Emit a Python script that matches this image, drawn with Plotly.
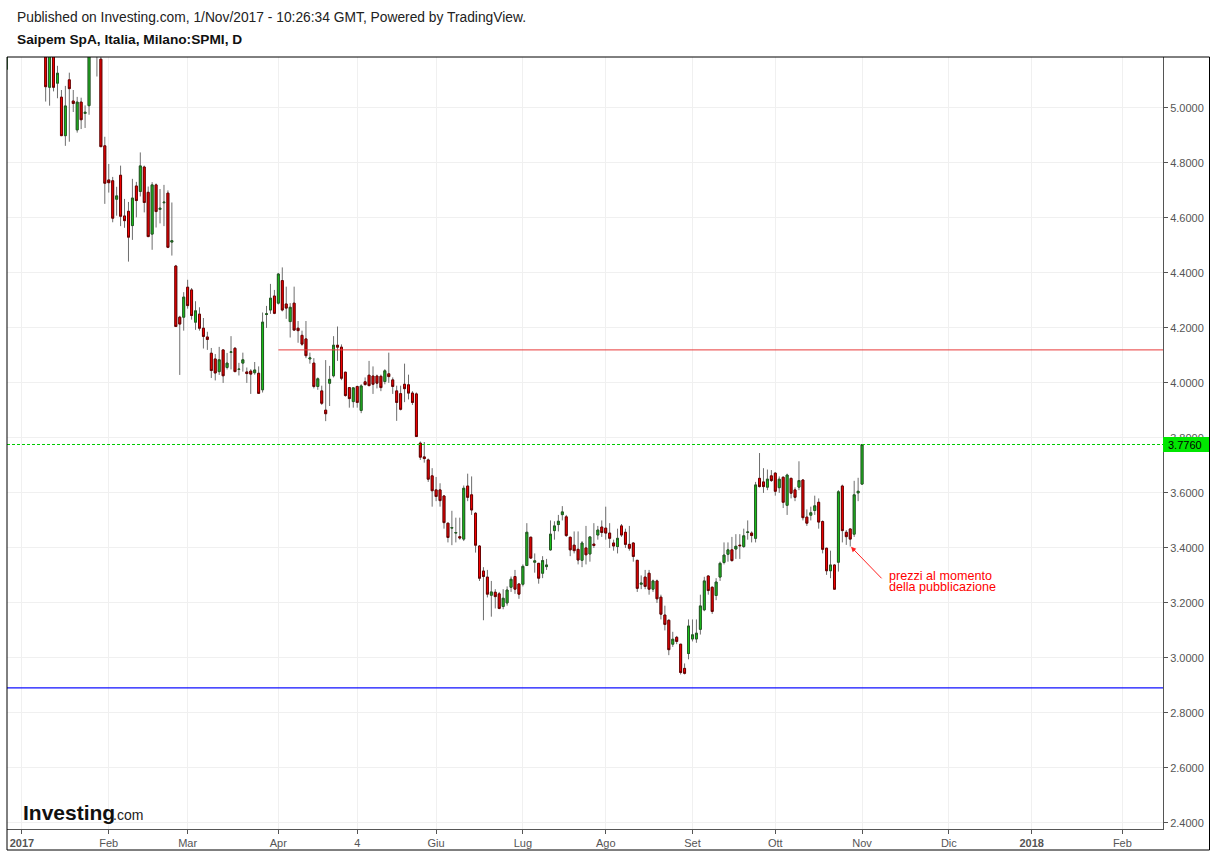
import pandas as pd
import plotly.graph_objects as go

# ---------------- data (Saipem SpA, daily, 27 Dec 2016 -> 1 Nov 2017) ----------------
holidays = ["2017-04-14", "2017-04-17", "2017-05-01", "2017-08-15"]

open_ = [5.14, 5.27, 5.30, 5.33, 5.36, 5.45, 5.42, 5.38, 5.31, 5.25,
         5.28, 5.075, 5.21, 5.09, 5.039, 4.899, 5.102, 5.025, 4.92, 5.021,
         4.980, 5.008, 5.22, 5.26, 5.177, 4.862, 4.738, 4.735, 4.668, 4.755,
         4.607, 4.624, 4.572, 4.716, 4.696, 4.785, 4.693, 4.541, 4.72, 4.631,
         4.655, 4.69, 4.512, 4.425, 4.239, 4.239, 4.348, 4.338, 4.221, 4.25,
         4.199, 4.167, 4.108, 4.087, 4.041, 4.12, 4.056, 4.111, 4.126, 4.049,
         4.072, 4.04, 4.043, 4.037, 4.035, 3.975, 4.249, 4.265, 4.316, 4.29,
         4.372, 4.287, 4.223, 4.29, 4.199, 4.173, 4.16, 4.087, 4.072, 3.987,
         3.971, 3.901, 3.999, 4.026, 4.137, 4.13, 4.039, 3.983, 3.932, 3.987,
         3.9, 4.004, 4.028, 4.025, 4.025, 4.024, 4.005, 4.033, 4.011, 3.971,
         3.961, 3.995, 3.993, 3.963, 3.96, 3.781, 3.731, 3.72, 3.662, 3.611,
         3.611, 3.589, 3.49, 3.472, 3.454, 3.441, 3.432, 3.625, 3.593, 3.526,
         3.407, 3.316, 3.294, 3.228, 3.239, 3.233, 3.187, 3.2, 3.257, 3.296,
         3.269, 3.268, 3.336, 3.439, 3.348, 3.344, 3.308, 3.332, 3.393, 3.463,
         3.485, 3.521, 3.513, 3.439, 3.41, 3.395, 3.355, 3.4, 3.378, 3.414,
         3.447, 3.476, 3.472, 3.454, 3.418, 3.405, 3.48, 3.457, 3.413, 3.418,
         3.355, 3.268, 3.294, 3.308, 3.25, 3.28, 3.221, 3.156, 3.137, 3.05,
         3.075, 3.05, 2.962, 3.016, 3.069, 3.069, 3.104, 3.175, 3.298, 3.257,
         3.227, 3.294, 3.347, 3.377, 3.393, 3.396, 3.41, 3.405, 3.456, 3.454,
         3.435, 3.653, 3.64, 3.621, 3.662, 3.672, 3.619, 3.657, 3.555, 3.653,
         3.611, 3.621, 3.647, 3.512, 3.519, 3.536, 3.566, 3.496, 3.399, 3.317,
         3.338, 3.348, 3.625, 3.457, 3.469, 3.45, 3.600, 3.632]

high = [5.20, 5.35, 5.38, 5.40, 5.50, 5.52, 5.48, 5.44, 5.36, 5.32,
        5.30, 5.22, 5.24, 5.153, 5.065, 5.08, 5.128, 5.065, 5.04, 5.037,
        5.009, 5.25, 5.30, 5.28, 5.21, 4.895, 4.796, 4.749, 4.713, 4.79,
        4.669, 4.658, 4.742, 4.731, 4.838, 4.79, 4.714, 4.73, 4.725, 4.705,
        4.72, 4.70, 4.656, 4.429, 4.244, 4.33, 4.375, 4.345, 4.297, 4.275,
        4.236, 4.186, 4.127, 4.105, 4.131, 4.12, 4.109, 4.17, 4.13, 4.073,
        4.11, 4.056, 4.05, 4.076, 4.06, 4.256, 4.28, 4.36, 4.338, 4.40,
        4.42, 4.35, 4.29, 4.35, 4.225, 4.19, 4.225, 4.11, 4.09, 4.02,
        3.99, 4.083, 4.062, 4.17, 4.205, 4.14, 4.04, 3.985, 3.985, 3.99,
        3.995, 4.02, 4.08, 4.06, 4.03, 4.03, 4.05, 4.11, 4.02, 3.99,
        3.99, 4.07, 4.03, 3.97, 3.965, 3.787, 3.785, 3.725, 3.69, 3.658,
        3.635, 3.59, 3.49, 3.535, 3.51, 3.51, 3.627, 3.67, 3.66, 3.53,
        3.41, 3.33, 3.32, 3.28, 3.25, 3.24, 3.25, 3.26, 3.296, 3.32,
        3.27, 3.34, 3.49, 3.44, 3.38, 3.345, 3.37, 3.36, 3.5, 3.497,
        3.52, 3.552, 3.52, 3.44, 3.46, 3.46, 3.425, 3.48, 3.44, 3.49,
        3.48, 3.50, 3.55, 3.49, 3.43, 3.47, 3.487, 3.47, 3.48, 3.42,
        3.356, 3.30, 3.32, 3.32, 3.285, 3.285, 3.23, 3.19, 3.14, 3.095,
        3.08, 3.05, 2.98, 3.14, 3.14, 3.14, 3.23, 3.295, 3.30, 3.26,
        3.29, 3.35, 3.42, 3.42, 3.44, 3.45, 3.45, 3.47, 3.50, 3.46,
        3.64, 3.745, 3.69, 3.685, 3.683, 3.675, 3.66, 3.66, 3.67, 3.655,
        3.62, 3.715, 3.65, 3.54, 3.55, 3.59, 3.58, 3.50, 3.40, 3.39,
        3.34, 3.61, 3.63, 3.465, 3.47, 3.644, 3.655, 3.776]

low = [5.13, 5.22, 5.25, 5.26, 5.32, 5.38, 5.33, 5.27, 5.22, 5.21,
       5.023, 5.008, 5.06, 5.035, 4.899, 4.862, 4.877, 4.985, 4.91, 4.923,
       4.927, 4.975, 5.20, 5.114, 4.859, 4.651, 4.692, 4.584, 4.608, 4.57,
       4.564, 4.441, 4.52, 4.602, 4.678, 4.62, 4.53, 4.484, 4.565, 4.58,
       4.57, 4.49, 4.463, 4.205, 4.029, 4.19, 4.27, 4.23, 4.193, 4.19,
       4.125, 4.12, 4.018, 4.009, 4.029, 4.0, 4.049, 4.049, 4.04, 4.027,
       4.041, 4.0, 3.96, 4.03, 3.96, 3.965, 4.2, 4.251, 4.25, 4.285,
       4.26, 4.233, 4.165, 4.19, 4.146, 4.135, 4.09, 4.07, 3.98, 3.975,
       3.92, 3.861, 3.916, 4.02, 4.08, 4.01, 3.95, 3.91, 3.91, 3.91,
       3.89, 3.99, 3.99, 3.96, 3.98, 3.97, 3.995, 4.0, 3.96, 3.862,
       3.90, 3.93, 3.94, 3.92, 3.805, 3.72, 3.71, 3.64, 3.55, 3.57,
       3.55, 3.47, 3.42, 3.41, 3.42, 3.43, 3.425, 3.57, 3.52, 3.383,
       3.28, 3.137, 3.22, 3.15, 3.18, 3.177, 3.177, 3.19, 3.24, 3.233,
       3.215, 3.26, 3.335, 3.36, 3.31, 3.27, 3.29, 3.32, 3.39, 3.43,
       3.46, 3.5, 3.44, 3.37, 3.38, 3.34, 3.33, 3.34, 3.35, 3.40,
       3.43, 3.44, 3.43, 3.40, 3.39, 3.38, 3.44, 3.40, 3.39, 3.35,
       3.24, 3.25, 3.25, 3.23, 3.24, 3.20, 3.14, 3.10, 3.01, 3.04,
       3.05, 2.94, 2.94, 2.995, 3.06, 3.055, 3.085, 3.17, 3.23, 3.16,
       3.21, 3.28, 3.34, 3.35, 3.35, 3.36, 3.36, 3.40, 3.43, 3.42,
       3.42, 3.62, 3.60, 3.61, 3.64, 3.59, 3.60, 3.545, 3.52, 3.58,
       3.57, 3.61, 3.50, 3.48, 3.50, 3.52, 3.47, 3.38, 3.302, 3.29,
       3.25, 3.314, 3.42, 3.411, 3.405, 3.44, 3.57, 3.63]

close = [5.27, 5.30, 5.33, 5.36, 5.45, 5.42, 5.38, 5.31, 5.25, 5.28,
         5.077, 5.20, 5.075, 5.126, 4.899, 5.007, 5.070, 5.016, 5.021, 4.957,
         4.984, 5.22, 5.26, 5.20, 4.859, 4.726, 4.728, 4.599, 4.680, 4.606,
         4.590, 4.53, 4.672, 4.663, 4.789, 4.656, 4.532, 4.72, 4.623, 4.635,
         4.657, 4.493, 4.517, 4.205, 4.214, 4.312, 4.281, 4.245, 4.262, 4.199,
         4.169, 4.158, 4.045, 4.036, 4.084, 4.026, 4.072, 4.113, 4.041, 4.05,
         4.084, 4.034, 4.032, 4.047, 3.962, 4.221, 4.251, 4.308, 4.253, 4.396,
         4.265, 4.272, 4.275, 4.192, 4.19, 4.141, 4.099, 4.091, 3.987, 4.015,
         3.926, 3.888, 4.013, 4.137, 4.13, 4.017, 3.954, 3.943, 3.982, 3.929,
         3.989, 3.994, 3.99, 3.995, 3.999, 3.983, 4.044, 4.023, 3.987, 3.929,
         3.904, 3.979, 3.963, 3.929, 3.805, 3.730, 3.725, 3.65, 3.608, 3.587,
         3.572, 3.492, 3.438, 3.474, 3.456, 3.436, 3.617, 3.584, 3.538, 3.41,
         3.29, 3.296, 3.232, 3.24, 3.223, 3.18, 3.217, 3.247, 3.286, 3.25,
         3.232, 3.333, 3.457, 3.363, 3.353, 3.29, 3.354, 3.338, 3.45, 3.48,
         3.497, 3.531, 3.445, 3.393, 3.39, 3.356, 3.418, 3.375, 3.44, 3.409,
         3.465, 3.456, 3.454, 3.435, 3.407, 3.435, 3.447, 3.413, 3.399, 3.369,
         3.253, 3.272, 3.26, 3.25, 3.28, 3.215, 3.159, 3.122, 3.03, 3.068,
         3.06, 2.947, 2.944, 3.116, 3.084, 3.09, 3.189, 3.28, 3.245, 3.169,
         3.276, 3.344, 3.374, 3.393, 3.354, 3.406, 3.408, 3.444, 3.458, 3.445,
         3.629, 3.623, 3.623, 3.65, 3.645, 3.606, 3.65, 3.566, 3.665, 3.599,
         3.584, 3.645, 3.51, 3.49, 3.528, 3.553, 3.494, 3.395, 3.317, 3.338,
         3.25, 3.604, 3.463, 3.441, 3.432, 3.593, 3.606, 3.776]

tick_dates = ["2017-01-02", "2017-02-01", "2017-03-01", "2017-04-03", "2017-05-04",
              "2017-06-01", "2017-07-03", "2017-08-01", "2017-09-01", "2017-10-02",
              "2017-11-01", "2017-12-01", "2018-01-01", "2018-02-01"]
tick_labels = ["<b>2017</b>", "Feb", "Mar", "Apr", "4", "Giu", "Lug", "Ago",
               "Set", "Ott", "Nov", "Dic", "<b>2018</b>", "Feb"]

y_ticks = [2.4, 2.6, 2.8, 3.0, 3.2, 3.4, 3.6, 3.8, 4.0, 4.2, 4.4, 4.6, 4.8, 5.0]

resistance = 4.12      # red line, starts 3 Apr 2017
support = 2.891        # blue line
last_price = 3.776
resistance_start = "2017-04-03"

# ---------------- trading-day axis ----------------
cal = pd.bdate_range("2016-12-27", "2018-03-01")
cal = cal[~cal.isin(pd.to_datetime(holidays))]
base = list(cal).index(pd.Timestamp("2017-01-02"))
pos = {d.strftime("%Y-%m-%d"): i - base for i, d in enumerate(cal)}
dates = [d.strftime("%Y-%m-%d") for d in cal[:len(close)]]
x = [pos[d] for d in dates]
tickvals = [pos[d] for d in tick_dates]

body_hi = [max(o, c) for o, c in zip(open_, close)]
body_lo = [min(o, c) for o, c in zip(open_, close)]

GREEN = "#19c819"
RED = "#ff0000"
FONT = "Arial, Liberation Sans, sans-serif"

fig = go.Figure()
# wicks (gray)
fig.add_trace(go.Candlestick(
    x=x, open=open_, high=high, low=low, close=close,
    increasing=dict(line=dict(color="#6e6e6e", width=1), fillcolor=GREEN),
    decreasing=dict(line=dict(color="#6e6e6e", width=1), fillcolor=RED),
    hoverinfo="skip", showlegend=False))
# bodies with dark outlines
fig.add_trace(go.Candlestick(
    x=x, open=open_, high=body_hi, low=body_lo, close=close,
    increasing=dict(line=dict(color="#235a23", width=1), fillcolor=GREEN),
    decreasing=dict(line=dict(color="#6a0000", width=1), fillcolor=RED),
    hoverinfo="skip", showlegend=False))

W, H = 1214, 853
L, R, T, B = 7, 1163, 57, 829
pw, ph = R - L, B - T


def px(xp):
    return (xp - L) / pw


def py(yp):
    return (B - yp) / ph


x_min, x_max = -3.8, 289.3

shapes = [
    dict(type="line", xref="x", yref="y", x0=pos[resistance_start], x1=x_max,
         y0=resistance, y1=resistance, line=dict(color="#e83a3a", width=1), layer="above"),
    dict(type="line", xref="paper", yref="y", x0=0, x1=1, y0=support, y1=support,
         line=dict(color="#1010ff", width=1.2), layer="above"),
    dict(type="line", xref="paper", yref="y", x0=0, x1=1, y0=last_price, y1=last_price,
         line=dict(color="#00cc00", width=1, dash="3px,2px"), layer="above"),
    # price label box
    dict(type="rect", xref="paper", yref="y", x0=1.0, x1=px(1209), y0=last_price - 0.027,
         y1=last_price + 0.027, fillcolor="#00e600", line=dict(width=0), layer="above"),
    # outer frame
    dict(type="rect", xref="paper", yref="paper", x0=0, x1=px(1209.5), y0=py(850), y1=1,
         line=dict(color="#000000", width=1), fillcolor="rgba(0,0,0,0)", layer="above"),
]

annotations = [
    dict(xref="paper", yref="paper", x=px(15), y=py(17), xanchor="left", yanchor="middle",
         text="Published on Investing.com, 1/Nov/2017 - 10:26:34 GMT, Powered by TradingView.",
         showarrow=False, font=dict(family=FONT, size=13.8, color="#222222")),
    dict(xref="paper", yref="paper", x=px(15), y=py(40), xanchor="left", yanchor="middle",
         text="<b>Saipem SpA, Italia, Milano:SPMI, D</b>",
         showarrow=False, font=dict(family=FONT, size=13.7, color="#111111")),
    dict(xref="paper", yref="y", x=1.0, y=last_price, xanchor="left", yanchor="middle",
         xshift=3, text=f"{last_price:.4f}", showarrow=False,
         font=dict(family=FONT, size=11, color="#000000")),
    # logo
    dict(xref="paper", yref="paper", x=px(21), y=py(812), xanchor="left", yanchor="middle",
         text="<b>Investing</b>", showarrow=False,
         font=dict(family=FONT, size=21, color="#111111")),
    dict(xref="paper", yref="paper", x=px(111), y=py(815), xanchor="left", yanchor="middle",
         text=".com", showarrow=False, font=dict(family=FONT, size=14, color="#222222")),
    # arrow + note
    dict(xref="x", yref="y", x=210.2, y=3.404, ax=32, ay=33, axref="pixel", ayref="pixel",
         text="", showarrow=True, arrowhead=2, arrowsize=1, arrowwidth=1, arrowcolor="#ff2020"),
    dict(xref="paper", yref="paper", x=px(887), y=py(576), xanchor="left", yanchor="middle",
         text="prezzi al momento", showarrow=False,
         font=dict(family=FONT, size=12.6, color="#ff0000")),
    dict(xref="paper", yref="paper", x=px(887), y=py(587), xanchor="left", yanchor="middle",
         text="della pubblicazione", showarrow=False,
         font=dict(family=FONT, size=12.6, color="#ff0000")),
]

fig.update_layout(
    width=W, height=H,
    margin=dict(l=L, r=W - R, t=T, b=H - B, pad=0, autoexpand=False),
    paper_bgcolor="#ffffff", plot_bgcolor="#ffffff",
    showlegend=False,
    shapes=shapes,
    annotations=annotations,
    font=dict(family=FONT, size=11, color="#555555"),
    xaxis=dict(
        range=[x_min, x_max], rangeslider=dict(visible=False), automargin=False,
        tickmode="array", tickvals=tickvals, ticktext=tick_labels,
        showgrid=True, gridcolor="#f0f0f0", gridwidth=1,
        showline=True, linecolor="#555555", linewidth=1,
        ticks="outside", ticklen=4, tickcolor="#555555",
        tickfont=dict(family=FONT, size=11, color="#555555"),
        zeroline=False, fixedrange=True,
    ),
    yaxis=dict(
        side="right", range=[2.378, 5.185], automargin=False,
        tickmode="array", tickvals=y_ticks, ticktext=[f"{v:.4f}" for v in y_ticks],
        showgrid=True, gridcolor="#f0f0f0", gridwidth=1,
        showline=True, linecolor="#555555", linewidth=1,
        ticks="outside", ticklen=4, tickcolor="#555555",
        tickfont=dict(family=FONT, size=11, color="#555555"),
        zeroline=False, fixedrange=True,
    ),
)

fig.write_html("out.html", config={"displayModeBar": False})
